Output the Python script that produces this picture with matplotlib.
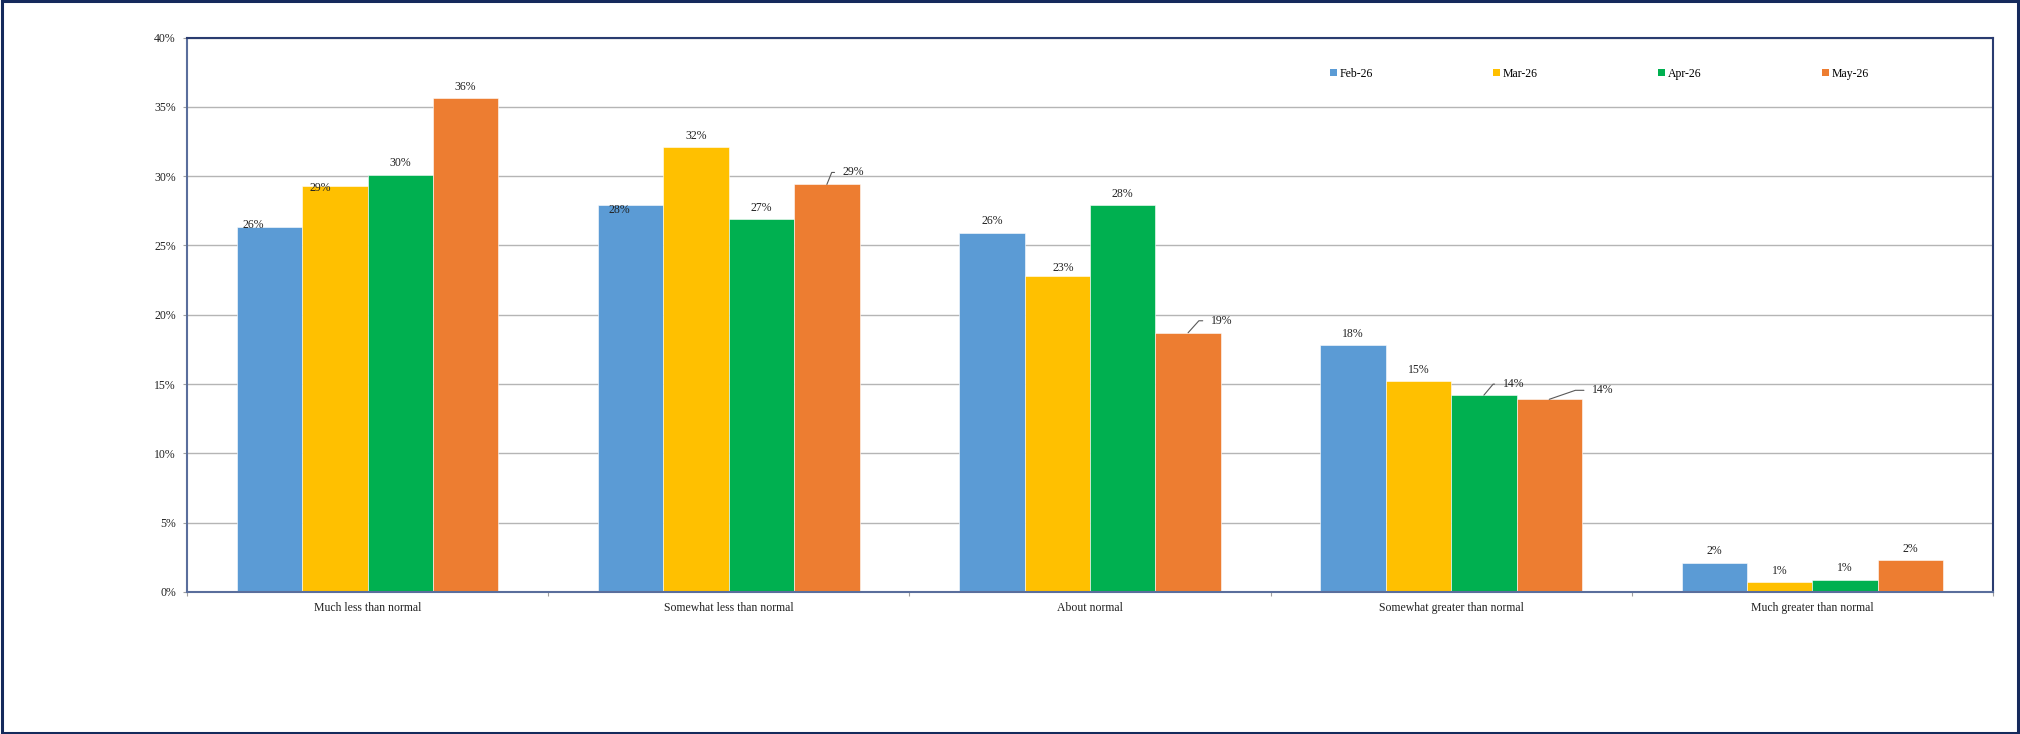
import numpy as np
import matplotlib
matplotlib.use('Agg')
import matplotlib.pyplot as plt
from matplotlib.patches import Patch, Rectangle
from matplotlib.ticker import FuncFormatter

plt.rcParams['font.family'] = ['Liberation Serif', 'DejaVu Serif']

# Дані
categories = ['Much less than normal', 'Somewhat less than normal', 'About normal',
              'Somewhat greater than normal', 'Much greater than normal']
months = ['Feb-26', 'Mar-26', 'Apr-26', 'May-26']
feb = [26.3, 27.9, 25.9, 17.8, 2.1]
mar = [29.3, 32.1, 22.8, 15.2, 0.7]
apr = [30.1, 26.9, 27.9, 14.2, 0.9]
may = [35.6, 29.4, 18.7, 13.9, 2.3]
y_ticks = [0, 5, 10, 15, 20, 25, 30, 35, 40]

series = [feb, mar, apr, may]
colors = ['#5B9BD5', '#FFC000', '#00B050', '#ED7D31']

# зсуви підписів (пікселі), решта стоїть над стовпцем
moved = {(0, 0): (-16, 2), (0, 1): (-15, -2), (1, 0): (-11, -5), (2, 1): (6, 8)}
# підписи з виносками: (відступ тексту x, y, кут лінії)
leaders = {(1, 3): (16, 12, 68), (2, 3): (23, 12, 48), (3, 2): (19, 11, 50), (3, 3): (43, 9, 19)}

fig = plt.figure(figsize=(20.2, 7.34), dpi=100)
ax = fig.add_axes([187 / 2020, 1 - 592 / 734, 1806 / 2020, 554.5 / 734])

x = np.arange(len(categories))
w = 0.181
txt_col = '#222222'
for j, (vals, c) in enumerate(zip(series, colors)):
    pos = x + (j - 1.5) * w
    ax.bar(pos, vals, width=w, color=c, edgecolor='white', linewidth=0.4, zorder=3)
    for i, v in enumerate(vals):
        lab = f'{round(v):.0f}%'
        if (i, j) in leaders:
            dx, dy, ang = leaders[(i, j)]
            ax.annotate(lab, xy=(pos[i], v), xytext=(dx, dy), textcoords='offset pixels',
                        ha='left', va='center', fontsize=8.5, color=txt_col, zorder=5,
                        arrowprops=dict(arrowstyle='-', color='#595959', lw=0.8,
                                        shrinkA=4, shrinkB=0, relpos=(0, 0.5),
                                        connectionstyle=f'angle,angleA=0,angleB={ang},rad=0'))
        else:
            dx, dy = moved.get((i, j), (0, 11.5))
            ax.annotate(lab, xy=(pos[i], v), xytext=(dx, dy), textcoords='offset pixels',
                        ha='center', va='center', fontsize=8.5, color=txt_col, zorder=5)

ax.set_xlim(-0.5, len(categories) - 0.5)
ax.set_ylim(0, 40)
ax.set_yticks(y_ticks)
ax.yaxis.set_major_formatter(FuncFormatter(lambda v, p: f'{v:.0f}%'))
ax.grid(axis='y', color='#b5b5b5', linewidth=1.0, zorder=0)
ax.set_axisbelow(True)

ax.set_xticks(np.arange(len(categories) + 1) - 0.5)
ax.set_xticklabels([])
ax.set_xticks(x, minor=True)
ax.set_xticklabels(categories, minor=True)
ax.tick_params(axis='x', which='minor', length=0, pad=7, labelsize=8.5, labelcolor=txt_col)
ax.tick_params(axis='x', which='major', length=3, color='#a0a0a0', width=0.8)
ax.tick_params(axis='y', length=3, color='#a0a0a0', width=0.8, pad=5, labelsize=8.5,
               labelcolor=txt_col)

for s in ['top', 'right']:
    ax.spines[s].set_color('#2a3c70')
    ax.spines[s].set_linewidth(1.5)
for s in ['left', 'bottom']:
    ax.spines[s].set_color('#5a6e9c')
    ax.spines[s].set_linewidth(1.5)
ax.spines['bottom'].set_zorder(4)

handles = [Patch(facecolor=c, edgecolor='none', label=m) for c, m in zip(colors, months)]
ax.legend(handles=handles, loc='center', bbox_to_anchor=(0.633, 0.90, 0.298, 0.07),
          mode='expand', ncol=4, frameon=False, fontsize=8.5, handlelength=0.6,
          handleheight=0.6, handletextpad=0.2, borderaxespad=0, borderpad=0)

# рамка навколо всього малюнка
fig.patches.append(Rectangle((0.0008, 0.0015), 0.9984, 0.997, transform=fig.transFigure,
                             fill=False, edgecolor='#152a5c', linewidth=2.2))

fig.savefig('out.png', dpi=100)
